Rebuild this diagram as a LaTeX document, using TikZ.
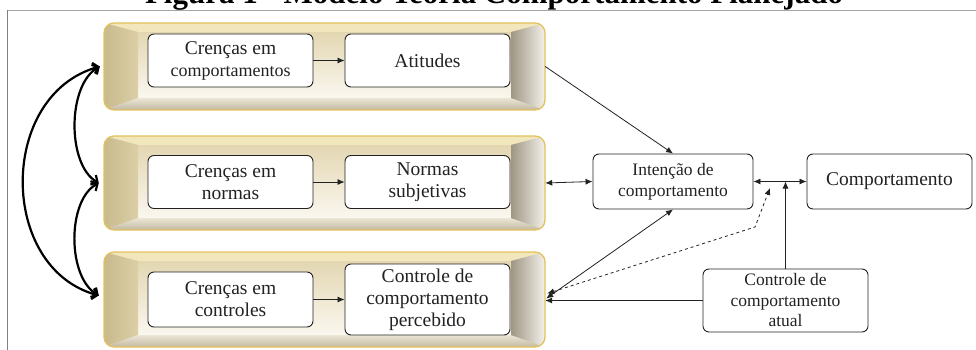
\documentclass[tikz,border=0pt]{standalone}
\usepackage{fontspec}
\setmainfont{Liberation Serif}
\usetikzlibrary{arrows.meta,fit,calc}
\definecolor{goldline}{HTML}{E2C25C}
\definecolor{topfacet}{HTML}{F2E6BC}
\definecolor{leftA}{HTML}{C9BA8D}
\definecolor{leftB}{HTML}{DCCFA6}
\definecolor{faceA}{HTML}{E3D7B2}
\definecolor{faceB}{HTML}{FAF7EF}
\definecolor{rightA}{HTML}{9F9684}
\definecolor{rightB}{HTML}{F4F1EA}
\definecolor{botA}{HTML}{ECE6D6}
\definecolor{botB}{HTML}{C2B9A2}
\definecolor{ink}{HTML}{222222}
\tikzset{
  wbox/.style={draw=ink, line width=0.9pt, rounded corners=6pt, fill=white,
    align=center, inner sep=0pt, text=ink,
    font=\fontsize{19.5}{22}\selectfont},
  conn/.style={draw=ink, line width=0.8pt, -{Latex[length=7pt,width=6pt]}},
  dconn/.style={draw=ink, line width=0.8pt, {Latex[length=7pt,width=6pt]}-{Latex[length=7pt,width=6pt]}},
  curv/.style={draw=black, line width=2.2pt,
    {Straight Barb[length=5pt,width=11pt]}-{Straight Barb[length=5pt,width=11pt]}},
}
\newcommand\goldpanel[5]{%
  \begin{scope}
    \clip[rounded corners=10pt] (#2,#3) rectangle (#4,#5);
    \fill[faceA] (#2,#3) rectangle (#4,#5);
    \coordinate (#1-i1) at (#2+34,#3+9);
    \coordinate (#1-i2) at (#4-34,#3+9);
    \coordinate (#1-i3) at (#4-34,#5-12);
    \coordinate (#1-i4) at (#2+34,#5-12);
    \shade[top color=faceA, bottom color=faceB] (#1-i1) rectangle (#1-i3);
    \fill[topfacet] (#2,#3) -- (#4,#3) -- (#1-i2) -- (#1-i1) -- cycle;
    \shade[left color=leftA, right color=leftB] (#2,#3) -- (#1-i1) -- (#1-i4) -- (#2,#5) -- cycle;
    \shade[top color=botA, bottom color=botB] (#2,#5) -- (#1-i4) -- (#1-i3) -- (#4,#5) -- cycle;
    \shade[left color=rightA, right color=rightB] (#4,#3) -- (#4,#5) -- (#1-i3) -- (#1-i2) -- cycle;
  \end{scope}
  \draw[goldline, line width=1.3pt, rounded corners=10pt] (#2,#3) rectangle (#4,#5);
  \node[fit={(#2,#3)(#4,#5)}, inner sep=0pt] (#1) {};
}
\begin{document}
\begin{tikzpicture}[x=1pt, y=-1pt]
\useasboundingbox (0,0) rectangle (976,350);
\clip (0,0) rectangle (976,350);
\fill[white] (0,0) rectangle (976,350);
% frame
\draw[black!35, line width=0.7pt] (976,10) -- (7,10);
\draw[black!50, line width=0.8pt] (7,10) -- (7,350);
% title
\node[anchor=base, inner sep=0pt, font=\bfseries\fontsize{31}{36}\selectfont] (title) at (494,4) {Figura 1 - Modelo Teoria Comportamento Planejado};
% panels
\goldpanel{pan1}{104}{23}{545}{110}
\goldpanel{pan2}{104}{136}{545}{230}
\goldpanel{pan3}{104}{252}{545}{347}
% boxes
\node[wbox, minimum width=165pt, minimum height=53pt] (b1a) at (230.5,60.5) {Crenças em\\{\fontsize{18}{22}\selectfont comportamentos}};
\node[wbox, minimum width=165pt, minimum height=53pt] (b1b) at (427.5,60.5) {Atitudes};
\node[wbox, minimum width=165pt, minimum height=53pt] (b2a) at (230.5,182) {Crenças em\\normas};
\node[wbox, minimum width=165pt, minimum height=53pt] (b2b) at (427.5,182) {Normas\\subjetivas};
\node[wbox, minimum width=165pt, minimum height=55pt] (b3a) at (230.5,299.5) {Crenças em\\controles};
\node[wbox, minimum width=165pt, minimum height=71pt] (b3b) at (427.5,299.5) {Controle de\\comportamento\\percebido};
\node[wbox, minimum width=160pt, minimum height=55pt, font=\fontsize{17.5}{21}\selectfont] (int) at (673,181.5) {Intenção de\\comportamento};
\node[wbox, minimum width=165pt, minimum height=55pt, font=\fontsize{19.5}{22}\selectfont] (comp) at (889.5,181.5) {Comportamento};
\node[wbox, minimum width=165pt, minimum height=63pt, font=\fontsize{17.5}{20.5}\selectfont] (atual) at (785.5,300.5) {Controle de\\comportamento\\atual};
% inner arrows
\draw[conn] (b1a) -- (b1b);
\draw[conn] (b2a) -- (b2b);
\draw[conn] (b3a) -- (b3b);
% right side connectors
\draw[conn] (pan1.east) -- (int.north);
\draw[dconn] (pan2.east) -- (int.west);
\draw[dconn] (int.south) -- ($(pan3.east)+(1,-1)$);
\coordinate (junc) at (atual.north |- int.east);
\draw[dconn] (int.east) -- (comp.west);
\draw[conn] (atual.north) -- (junc);
\coordinate (dbend) at (755,227);
\coordinate (dtop) at (770,188);
\draw[draw=ink, line width=0.8pt, dashed, {Latex[length=7pt,width=6pt]}-{Latex[length=7pt,width=6pt]}] ($(pan3.east)+(2,-6)$) -- (dbend) -- (dtop);
\draw[conn] (atual.west) -- (atual.west -| pan3.east);
% left curved arrows
\coordinate (l1) at ($(pan1.west)+(-4,0)$);
\coordinate (l2) at ($(pan2.west)+(-5,0)$);
\coordinate (l3) at ($(pan3.west)+(-5,-4)$);
\draw[curv] (l1) .. controls (-2,95) and (-2,268) .. (l3);
\draw[curv] (l1) .. controls (67,85) and (67,165) .. (l2);
\draw[curv] (l2) .. controls (67,200) and (67,277) .. (l3);
\end{tikzpicture}
\end{document}
